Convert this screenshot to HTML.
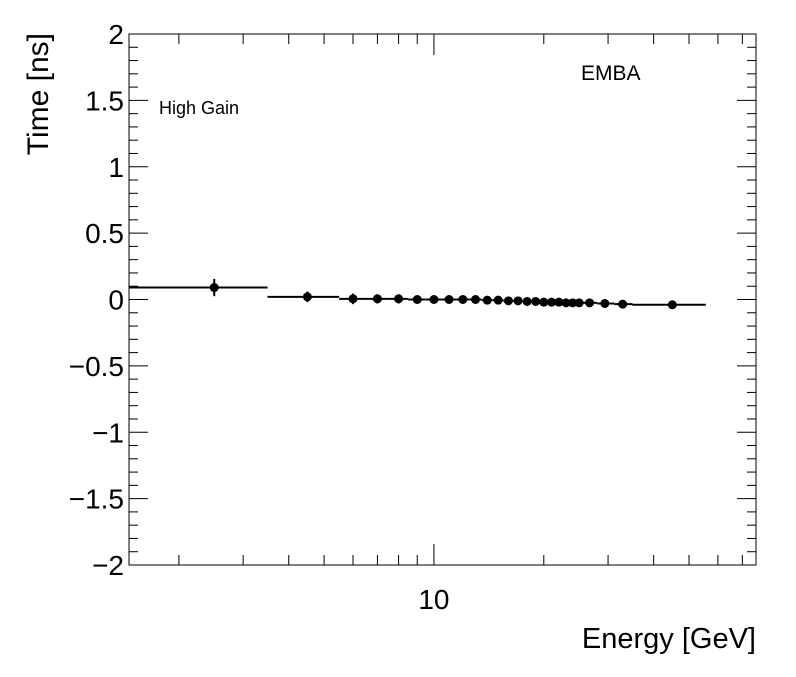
<!DOCTYPE html>
<html><head><meta charset="utf-8"><style>
body{margin:0;background:#fff;}
svg text{font-family:"Liberation Sans",Arial,sans-serif;fill:#000;}
</style></head><body>
<svg id="c" width="796" height="672" xmlns="http://www.w3.org/2000/svg"></svg>
<script>
const energies=[2.5,4.5,6,7,8,9,10,11,12,13,14,15,16,17,18,19,20,21,22,23,24,25,26.7,29.4,32.9,45];
const xLow=[1.46,3.5,5.5,6.5,7.5,8.5,9.5,10.5,11.5,12.5,13.5,14.5,15.5,16.5,17.5,18.5,19.5,20.5,21.5,22.5,23.5,24.5,25.5,28,31.2,35];
const xHigh=[3.5,5.5,6.5,7.5,8.5,9.5,10.5,11.5,12.5,13.5,14.5,15.5,16.5,17.5,18.5,19.5,20.5,21.5,22.5,23.5,24.5,25.5,28,31.2,35,55.6];
const times=[0.09,0.02,0.005,0.005,0.005,0,0,0,0,0,-0.005,-0.005,-0.01,-0.01,-0.015,-0.015,-0.02,-0.02,-0.02,-0.025,-0.025,-0.025,-0.025,-0.03,-0.035,-0.04];
const timeErr=[0.065,0.04,0.04,0.035,0.035,0.03,0.03,0.03,0.025,0.025,0.025,0.025,0.025,0.025,0.025,0.02,0.02,0.02,0.02,0.02,0.02,0.02,0.02,0.02,0.02,0.02];
const yTicks=[-2,-1.5,-1,-0.5,0,0.5,1,1.5,2];
const yTickLabels=["\u22122","\u22121.5","\u22121","\u22120.5","0","0.5","1","1.5","2"];

const L=129,R=756,T=34,B=565,XMIN=1.46,XMAX=76.3,YMIN=-2,YMAX=2;
const sx=v=>L+(Math.log10(v)-Math.log10(XMIN))/(Math.log10(XMAX)-Math.log10(XMIN))*(R-L);
const sy=v=>B-(v-YMIN)/(YMAX-YMIN)*(B-T);
const svg=document.getElementById('c');
const NS='http://www.w3.org/2000/svg';
function mk(tag,at,parent){const e=document.createElementNS(NS,tag);for(const k in at)e.setAttribute(k,at[k]);(parent||svg).appendChild(e);return e;}

const frame=mk('rect',{x:L,y:T,width:R-L,height:B-T,fill:'none',stroke:'#000','stroke-width':1});



const ax=mk('g',{stroke:'#000','stroke-width':1});


for(let v=-2;v<=2.0001;v+=0.1){
  const y=sy(v), major=Math.abs(v*2-Math.round(v*2))<1e-6, len=major?19:9;
  mk('line',{x1:L,x2:L+len,y1:y,y2:y},ax);
  mk('line',{x1:R,x2:R-len,y1:y,y2:y},ax);
}
yTicks.forEach((v,i)=>{
  const t=mk('text',{x:L-5,y:sy(v)+10,'text-anchor':'end','font-size':28});
  t.textContent=yTickLabels[i];
  
  
});
[2,3,4,5,6,7,8,9,10,20,30,40,50,60,70].forEach(v=>{
  const x=sx(v), len=(v===10)?21:10;
  mk('line',{x1:x,x2:x,y1:B,y2:B-len},ax);
  mk('line',{x1:x,x2:x,y1:T,y2:T+len},ax);
});
const xl=mk('text',{x:sx(10),y:609,'text-anchor':'middle','font-size':28});
xl.textContent='10';



const xt=mk('text',{x:R,y:648,'text-anchor':'end','font-size':29});
xt.textContent='Energy [GeV]';


const yt=mk('text',{x:0,y:0,'text-anchor':'end','font-size':30,transform:'translate(48,33) rotate(-90)'});
yt.textContent='Time [ns]';



const hg=mk('text',{x:159,y:114,'font-size':18});
hg.textContent='High Gain';


const em=mk('text',{x:581,y:80,'font-size':21});
em.textContent='EMBA';



const g=mk('g',{stroke:'#000','stroke-width':2,fill:'#000'});


energies.forEach((e,i)=>{
  const x=sx(e), y=sy(times[i]);
  const p=mk('g',{},g);
  
  
  mk('line',{x1:sx(xLow[i]),x2:sx(xHigh[i]),y1:y,y2:y},p);
  mk('line',{x1:x,x2:x,y1:sy(times[i]+timeErr[i]),y2:sy(times[i]-timeErr[i])},p);
  mk('circle',{cx:x,cy:y,r:4.5,stroke:'none'},p);
});
</script>
</body></html>
